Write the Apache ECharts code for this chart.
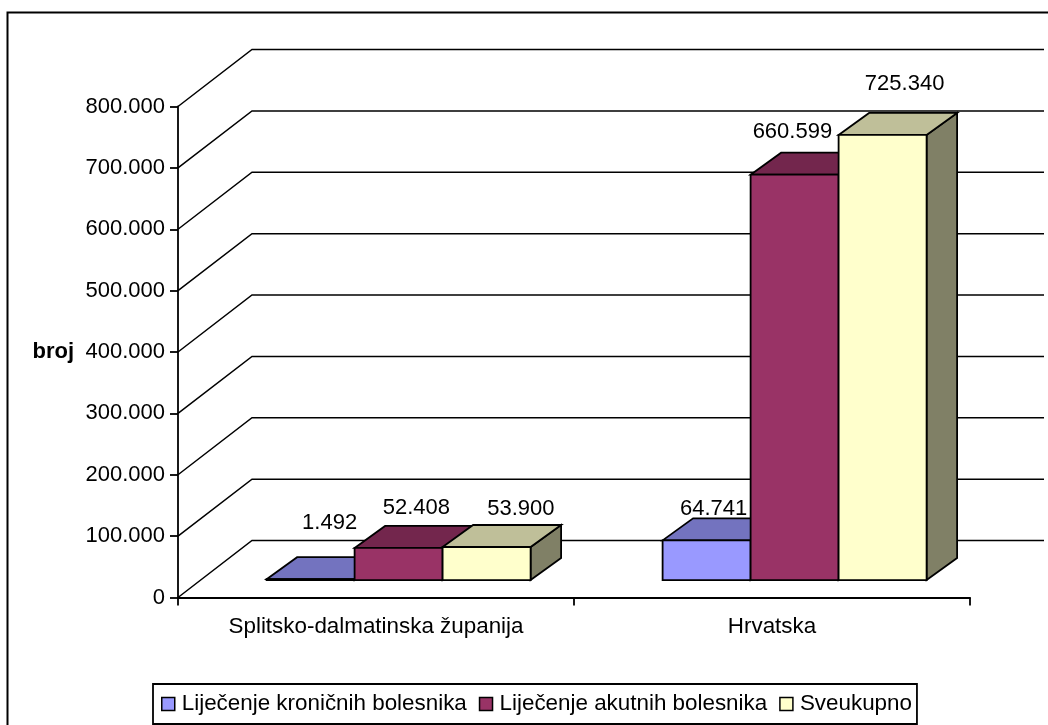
<!DOCTYPE html>
<html>
<head>
<meta charset="utf-8">
<style>
html, body { margin: 0; padding: 0; background: #fff; }
#main { width: 1048px; height: 725px; }
</style>
<script src="https://cdn.jsdelivr.net/npm/echarts@6/dist/echarts.min.js"></script>
</head>
<body>
<div id="main"></div>
<script>
var categories = ['Splitsko-dalmatinska županija', 'Hrvatska'];
var kronicni = [1492, 64741];
var akutni = [52408, 660599];
var sveukupno = [53900, 725340];
var seriesNames = ['Liječenje kroničnih bolesnika', 'Liječenje akutnih bolesnika', 'Sveukupno'];
var yTicks = [0, 100000, 200000, 300000, 400000, 500000, 600000, 700000, 800000];

var fontName = '"Liberation Sans", Arial, sans-serif';
var fontSize = 22;
var wideFontSize = 22.4;

// 3D look: how far the back wall and the bars sit behind the axis plane
var wallDx = 74, wallDy = 57;
var barDx = 22.6, barDy = 17.4;
var depthDx = 30.5, depthDy = 22;

// excel put the data labels by hand, nudges from the top back edge of each bar
var labelNudge = [
    [[-11.5, -34], [-23.5, -9.7]],
    [[-12.8, -17.5], [-32.7, -20.3]],
    [[3.8, -15.7], [-8.5, -29]]
];

function dotted(v) {
    return String(v).replace(/\B(?=(\d{3})+(?!\d))/g, '.');
}

function makeBarRender(idx, colors) {
    return function (params, api) {
        var cat = api.value(0);
        var val = api.value(1);
        var base = api.coord([cat, 0]);
        var top = api.coord([cat, val]);
        var bw = api.size([1, 0])[0] * 2 / 9;
        var x0 = base[0] - 1.5 * bw + idx * bw + barDx;
        var x1 = x0 + bw;
        var yb = base[1] - barDy;
        var yt = top[1] - barDy;
        var nudge = labelNudge[idx][cat];
        function poly(points, fill) {
            return {
                type: 'polygon',
                shape: { points: points },
                style: { fill: fill, stroke: '#000', lineWidth: 1.8 }
            };
        }
        return {
            type: 'group',
            children: [
                poly([[x1, yb], [x1 + depthDx, yb - depthDy], [x1 + depthDx, yt - depthDy], [x1, yt]], colors[2]),
                poly([[x0, yt], [x0 + depthDx, yt - depthDy], [x1 + depthDx, yt - depthDy], [x1, yt]], colors[1]),
                poly([[x0, yb], [x1, yb], [x1, yt], [x0, yt]], colors[0]),
                {
                    type: 'text',
                    z2: 50,
                    style: {
                        text: dotted(val),
                        x: x0 + bw / 2 + depthDx + nudge[0],
                        y: yt - depthDy + nudge[1],
                        align: 'center',
                        verticalAlign: 'middle',
                        fill: '#000',
                        font: fontSize + 'px ' + fontName
                    }
                }
            ]
        };
    };
}

function renderWall(params, api) {
    var p = api.coord([0, api.value(0)]);
    var rightEnd = params.coordSys.x + params.coordSys.width + wallDx;
    return {
        type: 'polyline',
        shape: {
            points: [
                [params.coordSys.x, p[1]],
                [params.coordSys.x + wallDx, p[1] - wallDy],
                [rightEnd, p[1] - wallDy]
            ]
        },
        style: { fill: 'none', stroke: '#000', lineWidth: 1.5 }
    };
}

function barSeries(idx, values, colors) {
    return {
        name: seriesNames[idx],
        type: 'custom',
        renderItem: makeBarRender(idx, colors),
        itemStyle: { color: colors[0] },
        encode: { x: 0, y: 1 },
        z: 10 + idx,
        data: values.map(function (v, i) { return [i, v]; })
    };
}

var chart = echarts.init(document.getElementById('main'), null, { renderer: 'canvas' });

chart.setOption({
    animation: false,
    backgroundColor: '#fff',
    textStyle: { fontFamily: fontName },
    // only the left and top of the chart frame are inside the picture
    graphic: [{
        type: 'polyline',
        silent: true,
        z: -1,
        shape: { points: [[7.5, 725], [7.5, 12.5], [1048, 12.5]] },
        style: { fill: 'none', stroke: '#000', lineWidth: 2 }
    }],
    grid: { left: 178, right: 78, top: 106.5, bottom: 127.5 },
    xAxis: {
        type: 'category',
        data: categories,
        axisLine: { lineStyle: { color: '#000', width: 1.8 } },
        axisTick: { show: true, length: 8, lineStyle: { color: '#000', width: 1.8 } },
        axisLabel: { color: '#000', fontSize: wideFontSize, fontFamily: fontName, margin: 18 },
        splitLine: { show: false }
    },
    yAxis: {
        type: 'value',
        min: 0,
        max: 800000,
        interval: 100000,
        name: 'broj',
        nameLocation: 'middle',
        nameRotate: 0,
        nameGap: 104,
        nameTextStyle: { color: '#000', fontSize: 22, fontWeight: 'bold', fontFamily: fontName },
        axisLine: { show: true, lineStyle: { color: '#000', width: 1.8 } },
        axisTick: { show: true, length: 8, lineStyle: { color: '#000', width: 1.8 } },
        axisLabel: { color: '#000', fontSize: fontSize, fontFamily: fontName, margin: 13, formatter: function (v) { return dotted(v); } },
        splitLine: { show: false }
    },
    legend: {
        data: seriesNames,
        left: 153,
        top: 684,
        orient: 'horizontal',
        icon: 'rect',
        itemWidth: 13,
        itemHeight: 13,
        itemGap: 12,
        padding: [9, 5, 9, 8],
        borderColor: '#000',
        borderWidth: 1.8,
        itemStyle: { borderColor: '#000', borderWidth: 1.5 },
        textStyle: { color: '#000', fontSize: wideFontSize, fontFamily: fontName, padding: [0, 0, 0, 2] }
    },
    series: [
        {
            type: 'custom',
            name: 'wall',
            renderItem: renderWall,
            z: 1,
            silent: true,
            data: yTicks.map(function (v) { return [v]; }),
            encode: { y: 0 }
        },
        barSeries(0, kronicni, ['#9999FF', '#7373BF', '#4D4D80']),
        barSeries(1, akutni, ['#993366', '#73264D', '#4D1A33']),
        barSeries(2, sveukupno, ['#FFFFCC', '#BFBF99', '#808066'])
    ]
});
</script>
</body>
</html>
